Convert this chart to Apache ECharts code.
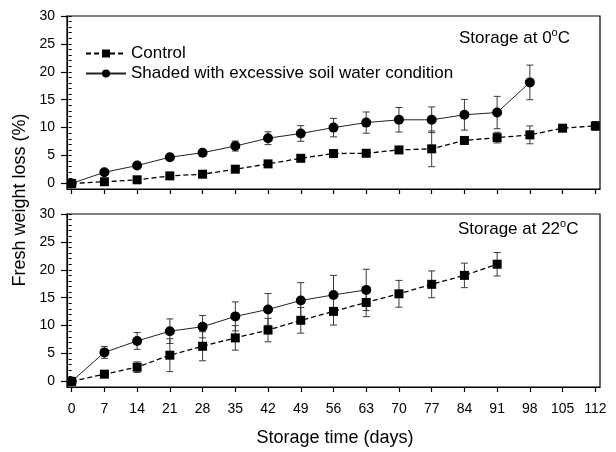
<!DOCTYPE html>
<html>
<head>
<meta charset="utf-8">
<script src="https://cdn.jsdelivr.net/npm/echarts@6/dist/echarts.min.js"></script>
<style>
  html, body { margin: 0; padding: 0; background: #fff; }
  #chart { width: 616px; height: 452px; }
</style>
</head>
<body>
<div id="chart"></div>
<script>
// Sampling days (every 7 days)
const days = [0, 7, 14, 21, 28, 35, 42, 49, 56, 63, 70, 77, 84, 91, 98, 105, 112];
const dayTicks = days;
const yMajorTicks = [0, 5, 10, 15, 20, 25, 30];
const yMinorTicks = Array.from({ length: 31 }, (_, i) => i);

// Storage at 0 °C
const cold_control = [0, 0.3, 0.65, 1.35, 1.65, 2.55, 3.5, 4.5, 5.35, 5.4, 6.0, 6.2, 7.7, 8.2, 8.7, 9.9, 10.3];
const cold_control_err = [0.2, 0.2, 0.3, 0.3, 0.3, 0.3, 0.3, 0.3, 0.4, 0.5, 0.6, 3.2, 0.5, 0.95, 1.6, 0.5, 0.8];
const cold_shaded = [0, 2.0, 3.2, 4.7, 5.5, 6.7, 8.1, 8.95, 10.0, 10.9, 11.4, 11.4, 12.3, 12.7, 18.1];
const cold_shaded_err = [0.2, 0.3, 0.3, 0.4, 0.4, 0.9, 1.15, 1.4, 1.65, 1.9, 2.2, 2.3, 2.75, 2.9, 3.1];

// Storage at 22 °C
const warm_control = [0, 1.3, 2.55, 4.7, 6.3, 7.8, 9.2, 10.95, 12.55, 14.15, 15.7, 17.4, 19.0, 21.0];
const warm_control_err = [0.2, 0.3, 0.95, 2.95, 2.6, 2.2, 2.1, 2.3, 2.45, 2.55, 2.4, 2.4, 2.2, 2.1];
const warm_shaded = [0, 5.2, 7.25, 9.0, 9.8, 11.65, 12.9, 14.5, 15.5, 16.4];
const warm_shaded_err = [0.2, 1.07, 1.5, 2.2, 2.0, 2.6, 2.85, 3.2, 3.5, 3.7];

const CONTROL = 'Control';
const SHADED = 'Shaded with excessive soil water condition';
const FONT = 'Liberation Sans, Arial, sans-serif';

function pairs(vals) {
  return vals.map((v, i) => [days[i], v]);
}
function errTriples(vals, errs) {
  return vals.map((v, i) => [days[i], v, errs[i]]);
}

// Vertical error bar with short caps
function renderErr(params, api) {
  const x = api.value(0), y = api.value(1), e = api.value(2);
  const hi = api.coord([x, y + e]);
  const lo = api.coord([x, y - e]);
  const cap = 3.5;
  const st = { stroke: '#3a3a3a', lineWidth: 1 };
  return {
    type: 'group',
    children: [
      { type: 'line', shape: { x1: hi[0], y1: hi[1], x2: lo[0], y2: lo[1] }, style: st },
      { type: 'line', shape: { x1: hi[0] - cap, y1: hi[1], x2: hi[0] + cap, y2: hi[1] }, style: st },
      { type: 'line', shape: { x1: lo[0] - cap, y1: lo[1], x2: lo[0] + cap, y2: lo[1] }, style: st }
    ]
  };
}

function xAxisFor(gridIndex, labels) {
  return {
    type: 'value', gridIndex, min: -1, max: 113,
    axisLine: { show: true, onZero: false, lineStyle: { color: '#000', width: 1.2 } },
    axisTick: { show: true, customValues: dayTicks, length: 5, inside: false, lineStyle: { color: '#000', width: 1.2 } },
    axisLabel: { show: labels, customValues: dayTicks, color: '#000', fontSize: 14, fontFamily: FONT, margin: 15 },
    splitLine: { show: false }
  };
}
function yAxesFor(gridIndex) {
  return [
    {
      type: 'value', gridIndex, min: -1, max: 30,
      axisLine: { show: true, onZero: false, lineStyle: { color: '#000', width: 1.2 } },
      axisTick: { show: true, customValues: yMajorTicks, length: 6, lineStyle: { color: '#000', width: 1.2 } },
      axisLabel: { show: true, customValues: yMajorTicks, color: '#000', fontSize: 14, fontFamily: FONT, margin: 12 },
      splitLine: { show: false }
    },
    {
      type: 'value', gridIndex, min: -1, max: 30, position: 'left',
      axisLine: { show: false },
      axisTick: { show: true, customValues: yMinorTicks, length: 3, lineStyle: { color: '#000', width: 1 } },
      axisLabel: { show: false },
      splitLine: { show: false }
    }
  ];
}

const controlLine = { color: '#000', width: 1.3, type: [5, 3] };
const shadedLine = { color: '#222', width: 1 };

const chart = echarts.init(document.getElementById('chart'), null, { renderer: 'canvas' });

chart.setOption({
  animation: false,
  backgroundColor: '#fff',
  grid: [
    { left: 67, top: 16, width: 533, height: 173, show: true, borderColor: '#000', borderWidth: 1.2, backgroundColor: 'transparent' },
    { left: 67, top: 214, width: 533, height: 173, show: true, borderColor: '#000', borderWidth: 1.2, backgroundColor: 'transparent' }
  ],
  xAxis: [xAxisFor(0, false), xAxisFor(1, true)],
  yAxis: [...yAxesFor(0), ...yAxesFor(1)],
  legend: {
    orient: 'vertical', left: 80, top: 40, itemGap: 3,
    itemWidth: 40, itemHeight: 10,
    textStyle: { color: '#000', fontSize: 17, fontFamily: FONT },
    data: [CONTROL, SHADED]
  },
  graphic: [
    {
      type: 'text', left: 459, top: 27,
      style: {
        text: '{a|Storage at 0}{s|o}{a|C}',
        rich: {
          a: { fontSize: 17, fontFamily: FONT, fill: '#000', lineHeight: 20, verticalAlign: 'bottom' },
          s: { fontSize: 11, fontFamily: FONT, fill: '#000', lineHeight: 20, verticalAlign: 'top', padding: [0, 0, 8, 0] }
        }
      }
    },
    {
      type: 'text', left: 458, top: 218,
      style: {
        text: '{a|Storage at 22}{s|o}{a|C}',
        rich: {
          a: { fontSize: 17, fontFamily: FONT, fill: '#000', lineHeight: 20, verticalAlign: 'bottom' },
          s: { fontSize: 11, fontFamily: FONT, fill: '#000', lineHeight: 20, verticalAlign: 'top', padding: [0, 0, 8, 0] }
        }
      }
    },
    {
      type: 'text', x: 20, y: 200, rotation: Math.PI / 2,
      style: { text: 'Fresh weight loss (%)', font: '18px ' + FONT, fill: '#000', align: 'center', verticalAlign: 'middle' }
    },
    {
      type: 'text', x: 335, y: 438,
      style: { text: 'Storage time (days)', font: '18px ' + FONT, fill: '#000', align: 'center', verticalAlign: 'middle' }
    }
  ],
  series: [
    { type: 'custom', xAxisIndex: 0, yAxisIndex: 0, renderItem: renderErr, data: errTriples(cold_control, cold_control_err), z: 2, silent: true },
    { type: 'custom', xAxisIndex: 0, yAxisIndex: 0, renderItem: renderErr, data: errTriples(cold_shaded, cold_shaded_err), z: 2, silent: true },
    { type: 'custom', xAxisIndex: 1, yAxisIndex: 2, renderItem: renderErr, data: errTriples(warm_control, warm_control_err), z: 2, silent: true },
    { type: 'custom', xAxisIndex: 1, yAxisIndex: 2, renderItem: renderErr, data: errTriples(warm_shaded, warm_shaded_err), z: 2, silent: true },
    {
      name: CONTROL, type: 'line', xAxisIndex: 0, yAxisIndex: 0, data: pairs(cold_control),
      symbol: 'rect', symbolSize: 9, itemStyle: { color: '#000' }, lineStyle: controlLine, z: 3, clip: false
    },
    {
      name: SHADED, type: 'line', xAxisIndex: 0, yAxisIndex: 0, data: pairs(cold_shaded),
      symbol: 'circle', symbolSize: 10, itemStyle: { color: '#000' }, lineStyle: shadedLine, z: 3, clip: false
    },
    {
      name: CONTROL, type: 'line', xAxisIndex: 1, yAxisIndex: 2, data: pairs(warm_control),
      symbol: 'rect', symbolSize: 9, itemStyle: { color: '#000' }, lineStyle: controlLine, z: 3, clip: false
    },
    {
      name: SHADED, type: 'line', xAxisIndex: 1, yAxisIndex: 2, data: pairs(warm_shaded),
      symbol: 'circle', symbolSize: 10, itemStyle: { color: '#000' }, lineStyle: shadedLine, z: 3, clip: false
    }
  ]
});
</script>
</body>
</html>
